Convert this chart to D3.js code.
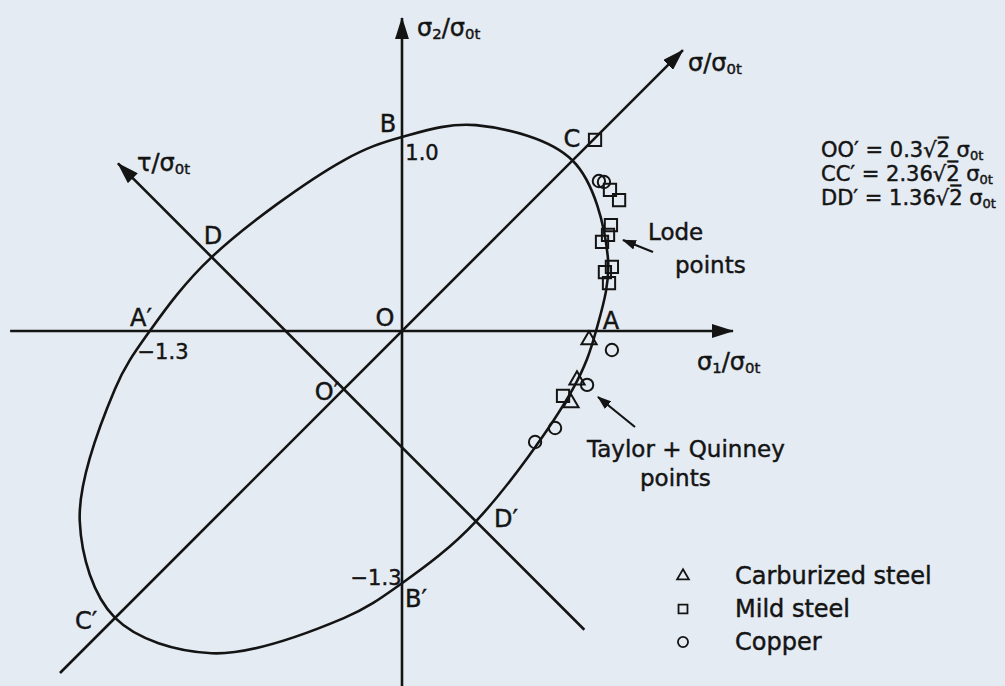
<!DOCTYPE html>
<html>
<head>
<meta charset="utf-8">
<script src="https://cdn.jsdelivr.net/npm/d3@7"></script>
<style>
  html, body { margin: 0; padding: 0; background: #e4ebf2; }
  svg { display: block; }
  .lbl { font-family: "DejaVu Sans", sans-serif; fill: #141414; stroke: #141414; stroke-width: 0.45; }
</style>
</head>
<body>
<svg id="chart" width="1005" height="686"></svg>
<script>
// Section of the elliptic paraboloid by the plane σ3 = 0, in σ1/σ0t, σ2/σ0t
const curveS1 = [0.879, 1.061, 1.0, 0.880, 0.381, 0.0, -0.300, -0.981, -1.479, -1.661, -1.480, -1.3, -0.981, -0.300, 0.0, 0.381];
const curveS2 = [0.879, 0.381, 0.0, -0.300, -0.981, -1.3, -1.480, -1.661, -1.479, -0.981, -0.300, 0.0, 0.381, 0.880, 1.0, 1.061];

// Experimental yield points (Lode, Taylor + Quinney)
const carburizedS1 = [0.964, 0.902, 0.871];
const carburizedS2 = [-0.046, -0.253, -0.371];
const mildS1 = [0.995, 1.072, 1.119, 1.077, 1.062, 1.031, 1.082, 1.046, 1.067, 0.830];
const mildS2 = [0.985, 0.727, 0.675, 0.546, 0.495, 0.459, 0.330, 0.304, 0.247, -0.335];
const copperS1 = [1.015, 1.041, 1.082, 0.954, 0.789, 0.686];
const copperS2 = [0.773, 0.768, -0.098, -0.278, -0.500, -0.572];

// Axis extents in normalised stress
const sigma1Extent = [-2.02, 1.706];
const sigma2Extent = [-1.83, 1.613];
const hydroExtent = [-1.763, 1.448];          // σ1 = σ2 = s
const shiftO = -0.3;                           // O' on the hydrostatic line
const tauExtent = [1.24, -1.164];              // σ1 = -0.3 + u, σ2 = -0.3 - u

const legendNames = ["Carburized steel", "Mild steel", "Copper"];
const legendSymbols = [d3.symbolTriangle, d3.symbolSquare, d3.symbolCircle];

const relationNames = ["OO′", "CC′", "DD′"];
const relationValues = ["0.3", "2.36", "1.36"];

const svg = d3.select("#chart");
const x = d3.scaleLinear().domain([-2, 3]).range([14, 984]);
const y = d3.scaleLinear().domain([-1.5, 1.5]).range([622, 40]);

const ink = "#141414";
const lw = 2.6;

const defs = svg.append("defs");
defs.append("marker")
  .attr("id", "head")
  .attr("viewBox", "0 0 22 14")
  .attr("refX", 21).attr("refY", 7)
  .attr("markerWidth", 22).attr("markerHeight", 14)
  .attr("markerUnits", "userSpaceOnUse")
  .attr("orient", "auto")
  .append("path").attr("d", "M0,0 L22,7 L0,14 Z").attr("fill", ink);
defs.append("marker")
  .attr("id", "smallhead")
  .attr("viewBox", "0 0 14 10")
  .attr("refX", 13).attr("refY", 5)
  .attr("markerWidth", 14).attr("markerHeight", 10)
  .attr("markerUnits", "userSpaceOnUse")
  .attr("orient", "auto")
  .append("path").attr("d", "M0,0 L14,5 L0,10 Z").attr("fill", ink);

const axes = svg.append("g").attr("stroke", ink).attr("stroke-width", lw).attr("fill", "none");
function seg(p0, p1) {
  axes.append("line")
    .attr("x1", x(p0[0])).attr("y1", y(p0[1]))
    .attr("x2", x(p1[0])).attr("y2", y(p1[1]))
    .attr("marker-end", "url(#head)");
}
seg([sigma1Extent[0], 0], [sigma1Extent[1], 0]);                         // σ1
seg([0, sigma2Extent[0]], [0, sigma2Extent[1]]);                         // σ2
seg([hydroExtent[0], hydroExtent[0]], [hydroExtent[1], hydroExtent[1]]); // σ
seg([shiftO + tauExtent[0], shiftO - tauExtent[0]],
    [shiftO + tauExtent[1], shiftO - tauExtent[1]]);                     // τ

// yield curve
const curvePts = curveS1.map((v, i) => [v, curveS2[i]]);
svg.append("path")
  .datum(curvePts)
  .attr("fill", "none").attr("stroke", ink).attr("stroke-width", lw)
  .attr("d", d3.line().x(d => x(d[0])).y(d => y(d[1])).curve(d3.curveCatmullRomClosed.alpha(0.5)));

// data points
function drawPoints(s1, s2, sym, size) {
  svg.append("g").selectAll("path")
    .data(s1.map((v, i) => [v, s2[i]]))
    .join("path")
    .attr("transform", d => `translate(${x(d[0])},${y(d[1])})`)
    .attr("d", d3.symbol().type(sym).size(size))
    .attr("fill", "none").attr("stroke", ink).attr("stroke-width", 2);
}
drawPoints(carburizedS1, carburizedS2, d3.symbolTriangle, 100);
drawPoints(mildS1, mildS2, d3.symbolSquare, 150);
drawPoints(copperS1, copperS2, d3.symbolCircle, 120);

// text helpers
function label(txt, px, py, size, anchor) {
  return svg.append("text").attr("class", "lbl")
    .attr("x", px).attr("y", py)
    .attr("font-size", size)
    .attr("text-anchor", anchor || "middle")
    .attr("dominant-baseline", "central")
    .text(txt);
}
function ratio(px, py, size, head, sub) {
  const t = svg.append("text").attr("class", "lbl").attr("x", px).attr("y", py)
    .attr("font-size", size).attr("dominant-baseline", "central");
  t.append("tspan").text(head);
  if (sub) t.append("tspan").attr("font-size", size * 0.62).attr("dy", 6).text(sub);
  t.append("tspan").attr("dy", sub ? -6 : 0).text("/σ");
  t.append("tspan").attr("font-size", size * 0.62).attr("dy", 6).text("0t");
}
ratio(417, 28, 24, "σ", "2");
ratio(137, 163, 24, "τ", null);
ratio(688, 63, 24, "σ", null);
ratio(697, 362, 24, "σ", "1");

// point labels
label("B", 388, 124, 24);
label("1.0", 422, 153, 21);
label("O", 385, 318, 24);
label("A′", 141, 318, 24);
label("−1.3", 163, 352, 21);
label("D", 213, 236, 24);
label("O′", 327, 392, 24);
label("A", 611, 321, 24);
label("C", 572, 139, 24);
label("−1.3", 376, 578, 21);
label("B′", 416, 599, 24);
label("C′", 86, 621, 24);
label("D′", 506, 519, 24);

// annotations
label("Lode", 648, 232, 23, "start");
label("points", 675, 265, 23, "start");
label("Taylor + Quinney", 587, 449, 23, "start");
label("points", 640, 478, 23, "start");

svg.append("line").attr("x1", 653).attr("y1", 252).attr("x2", 623).attr("y2", 240)
  .attr("stroke", ink).attr("stroke-width", 2.2).attr("marker-end", "url(#smallhead)");
svg.append("line").attr("x1", 635).attr("y1", 427).attr("x2", 598).attr("y2", 397)
  .attr("stroke", ink).attr("stroke-width", 2.2).attr("marker-end", "url(#smallhead)");

// relations between the characteristic points
relationNames.forEach((nm, i) => {
  const py = 150 + i * 24;
  const t = svg.append("text").attr("class", "lbl").attr("x", 821).attr("y", py)
    .attr("font-size", 21).attr("dominant-baseline", "central");
  t.append("tspan").text(`${nm} = ${relationValues[i]}√2\u0305 σ`);
  t.append("tspan").attr("font-size", 13).attr("dy", 5).text("0t");
});

// legend
legendNames.forEach((name, i) => {
  const py = 576 + i * 33;
  svg.append("path")
    .attr("transform", `translate(683,${py})`)
    .attr("d", d3.symbol().type(legendSymbols[i]).size(i === 0 ? 60 : 80))
    .attr("fill", "none").attr("stroke", ink).attr("stroke-width", 1.8);
  label(name, 735, py, 24, "start");
});
</script>
</body>
</html>
